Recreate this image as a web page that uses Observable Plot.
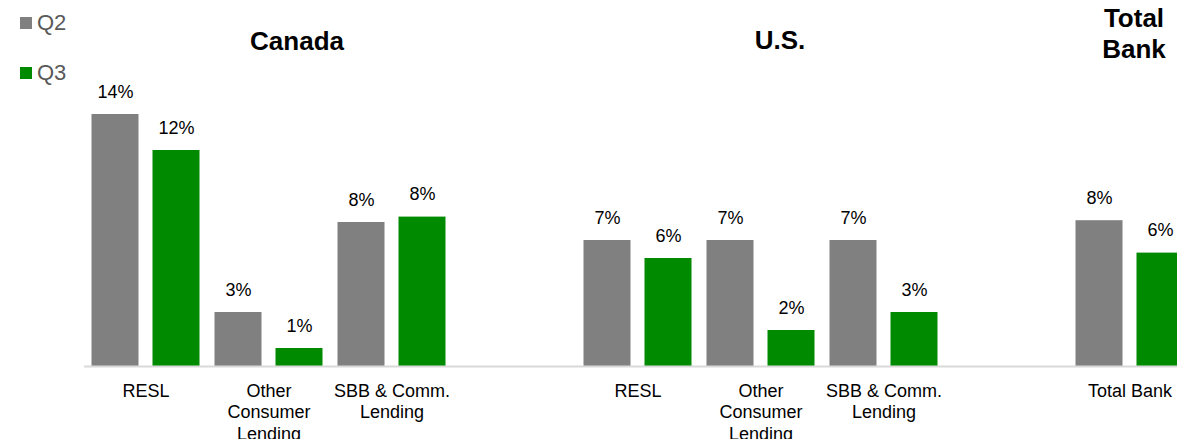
<!DOCTYPE html>
<html><head><meta charset="utf-8">
<script src="https://cdn.jsdelivr.net/npm/d3@7"></script>
<script src="https://cdn.jsdelivr.net/npm/@observablehq/plot@0.6"></script>
<style>
body{margin:0;background:#fff;font-family:"Liberation Sans",Arial,sans-serif;}
#wrap{position:relative;width:1177px;height:439px;overflow:hidden}
#legend{position:absolute;left:0;top:0;}
.leg{position:absolute;left:20px;display:flex;align-items:center;font-size:22px;color:#595959;line-height:1;}
.sw{width:12px;height:12px;margin-right:5px}
</style></head><body><div id="wrap"><div id="legend"></div></div>
<script>
// ---- data ----
const slots = ["CA-RESL","CA-OCL","CA-SBB","gap1","US-RESL","US-OCL","US-SBB","gap2","TOTAL"];
const slotLabels = ["RESL","Other\nConsumer\nLending","SBB & Comm.\nLending","","RESL","Other\nConsumer\nLending","SBB & Comm.\nLending","","Total Bank"];
const quarters = ["Q2","Q3"];
const q2Values = [14, 3, 8, null, 7, 7, 7, null, 8.1];
const q3Values = [12, 1, 8.3, null, 6, 2, 3, null, 6.3];
const quarterColors = ["#808080","#008a00"];
const titleCanada = "Canada";
const titleUS = "U.S.";
const titleTotal = "Total\nBank";

// ---- build tables ----
const rows = [];
slots.forEach((s, i) => {
  if (q2Values[i] != null) rows.push({slot: s, quarter: "Q2", value: q2Values[i]});
  if (q3Values[i] != null) rows.push({slot: s, quarter: "Q3", value: q3Values[i]});
});
const labelRows = slots.map((s, i) => ({slot: s, label: slotLabels[i]}));

const font = '"Liberation Sans", Arial, sans-serif';

const chart = Plot.plot({
  width: 1177,
  height: 439,
  marginLeft: 83.5,
  marginRight: 0,
  marginTop: 114,
  marginBottom: 73,
  style: {fontFamily: font, fontSize: "18px", color: "#000", background: "transparent"},
  fx: {domain: slots, range: [83.5, 1190.5], padding: 0, axis: null},
  x: {domain: quarters, paddingInner: 0.23, paddingOuter: 0.115, axis: null},
  y: {domain: [0, 14], axis: null},
  color: {domain: quarters, range: quarterColors},
  marks: [
    Plot.barY(rows, {fx: "slot", x: "quarter", y: "value", fill: "quarter"}),
    Plot.ruleY(labelRows, {fx: "slot", y: () => 0, stroke: "#d9d9d9", strokeWidth: 2}),
    Plot.text(rows, {fx: "slot", x: "quarter", y: "value", text: d => Math.round(d.value) + "%",
      lineAnchor: "bottom", dy: -17, fontSize: 18, fill: "#000"}),
    Plot.text(labelRows, {fx: "slot", text: "label", frameAnchor: "bottom", lineAnchor: "top",
      dy: 15, lineHeight: 1.2, fontSize: 18, fill: "#000"}),
    Plot.text([titleCanada], {fx: () => "CA-OCL", text: d => d, frameAnchor: "top", dy: -83, dx: 28,
      fontSize: 26, fontWeight: "bold", fill: "#000"}),
    Plot.text([titleUS], {fx: () => "US-OCL", text: d => d, frameAnchor: "top", dy: -84, dx: 19,
      fontSize: 26, fontWeight: "bold", fill: "#000"}),
    Plot.text([titleTotal], {fx: () => "TOTAL", text: d => d, frameAnchor: "top", lineAnchor: "top", dy: -110, dx: 4,
      lineHeight: 1.2, fontSize: 26, fontWeight: "bold", fill: "#000"})
  ]
});
document.getElementById("wrap").prepend(chart);

// legend
const legend = document.getElementById("legend");
const legendTops = [12, 62];
quarters.forEach((q, i) => {
  const row = document.createElement("div");
  row.className = "leg";
  row.style.top = legendTops[i] + "px";
  row.innerHTML = `<span class="sw" style="background:${quarterColors[i]}"></span><span>${q}</span>`;
  legend.appendChild(row);
});
</script>
</body></html>
